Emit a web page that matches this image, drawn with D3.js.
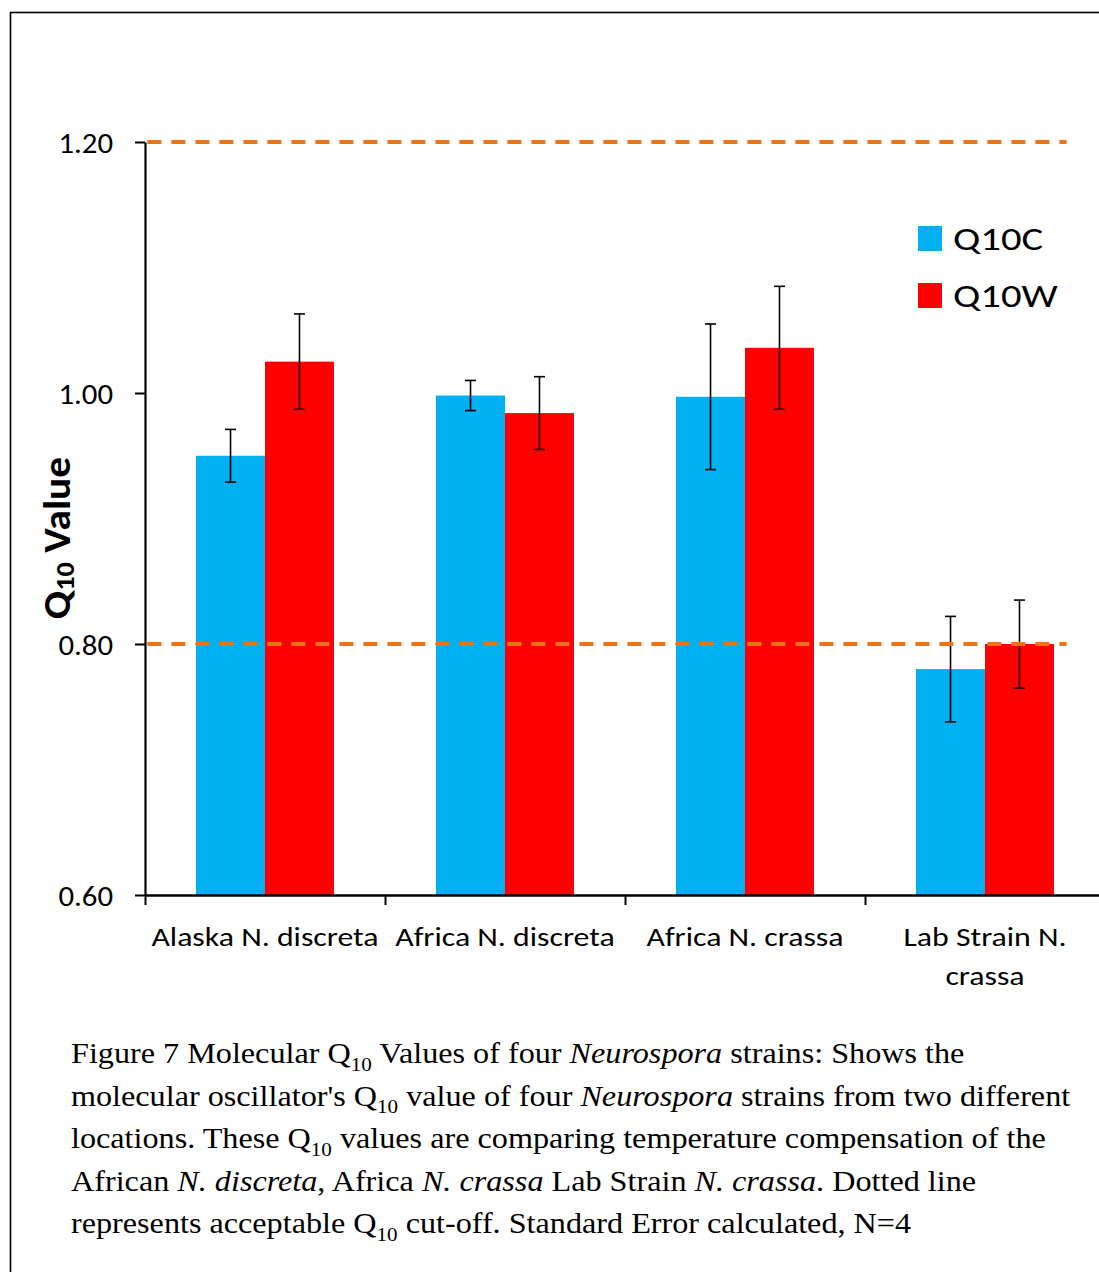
<!DOCTYPE html>
<html>
<head>
<meta charset="utf-8">
<script src="https://cdn.jsdelivr.net/npm/d3@7"></script>
<style>
  html, body { margin: 0; padding: 0; background: #fff; }
  svg { display: block; }
</style>
</head>
<body>
<svg id="chart" width="1099" height="1272"></svg>
<script>
// Molecular Q10 values per strain (mean ± standard error, N=4)
const categories = ["Alaska N. discreta", "Africa N. discreta", "Africa N. crassa", "Lab Strain N. crassa"];
const seriesNames = ["Q10C", "Q10W"];
const q10c = [0.950, 0.998, 0.997, 0.780];
const q10w = [1.025, 0.984, 1.036, 0.800];
const q10cErr = [0.021, 0.012, 0.058, 0.042];
const q10wErr = [0.038, 0.029, 0.049, 0.035];
const yTicks = [0.60, 0.80, 1.00, 1.20];
const cutoffs = [0.80, 1.20];
// extent of the cut-off lines, in category units along the x axis
const cutoffSpan = [0.01, 3.84];

const colors = { Q10C: "#00B0F0", Q10W: "#FF0000" };
const cutoffColor = "#E97316";

const captionLines = [
  [["Figure 7 Molecular Q"], ["10", "sub"], [" Values of four "], ["Neurospora", "it"], [" strains: Shows the"]],
  [["molecular oscillator's Q"], ["10", "sub"], [" value of four "], ["Neurospora", "it"], [" strains from two different"]],
  [["locations. These Q"], ["10", "sub"], [" values are comparing temperature compensation of the"]],
  [["African "], ["N. discreta", "it"], [", Africa "], ["N. crassa", "it"], [" Lab Strain "], ["N. crassa", "it"], [". Dotted line"]],
  [["represents acceptable Q"], ["10", "sub"], [" cut-off. Standard Error calculated, N=4"]]
];

const sans = "Carlito, Lato, sans-serif";
const svg = d3.select("#chart");
const W = 1099, H = 1272;

// frame around the figure
svg.append("rect")
  .attr("x", 10.5).attr("y", 12.5)
  .attr("width", W + 20).attr("height", H + 20)
  .attr("fill", "none").attr("stroke", "#000").attr("stroke-width", 1.6);

const plot = { left: 145, right: 1105, top: 142, bottom: 895 };

const y = d3.scaleLinear().domain([0.6, 1.2]).range([plot.bottom, plot.top]);
const xBand = d3.scaleBand().domain(categories).range([plot.left, plot.right]).paddingInner(0).paddingOuter(0);
const xEdge = d3.scaleLinear().domain([0, categories.length]).range([plot.left, plot.right]);
const xSeries = d3.scaleBand().domain(seriesNames).range([0, xBand.bandwidth()]).paddingInner(0).paddingOuter(0.74);

const rows = categories.map((c, i) => ({
  category: c,
  values: [
    { series: "Q10C", value: q10c[i], err: q10cErr[i] },
    { series: "Q10W", value: q10w[i], err: q10wErr[i] }
  ]
}));

// bars
const groups = svg.append("g").selectAll("g")
  .data(rows).join("g")
  .attr("transform", d => `translate(${xBand(d.category)},0)`);

groups.selectAll("rect")
  .data(d => d.values).join("rect")
  .attr("x", d => xSeries(d.series))
  .attr("width", xSeries.bandwidth())
  .attr("y", d => y(d.value))
  .attr("height", d => y(0.6) - y(d.value))
  .attr("fill", d => colors[d.series]);

// cut-off lines
svg.append("g").selectAll("line")
  .data(cutoffs).join("line")
  .attr("x1", xEdge(cutoffSpan[0])).attr("x2", xEdge(cutoffSpan[1]))
  .attr("y1", d => y(d)).attr("y2", d => y(d))
  .attr("stroke", cutoffColor).attr("stroke-width", 4)
  .attr("stroke-dasharray", "14 10");

// error bars
const capHalf = 5.5;
const eb = groups.selectAll("g.err")
  .data(d => d.values).join("g").attr("class", "err")
  .attr("stroke", "#000").attr("stroke-width", 1.6);
eb.append("line")
  .attr("x1", d => xSeries(d.series) + xSeries.bandwidth() / 2)
  .attr("x2", d => xSeries(d.series) + xSeries.bandwidth() / 2)
  .attr("y1", d => y(d.value + d.err)).attr("y2", d => y(d.value - d.err));
eb.selectAll("line.cap")
  .data(d => [{ d, v: d.value + d.err }, { d, v: d.value - d.err }]).join("line").attr("class", "cap")
  .attr("x1", o => xSeries(o.d.series) + xSeries.bandwidth() / 2 - capHalf)
  .attr("x2", o => xSeries(o.d.series) + xSeries.bandwidth() / 2 + capHalf)
  .attr("y1", o => y(o.v)).attr("y2", o => y(o.v));

// y axis
const yAxis = svg.append("g")
  .attr("transform", `translate(${plot.left},0)`)
  .call(d3.axisLeft(y).tickValues(yTicks).tickFormat(d3.format(".2f")).tickSize(10).tickSizeOuter(0));
yAxis.select(".domain").attr("stroke", "#000").attr("stroke-width", 2.2);
yAxis.selectAll(".tick line").attr("stroke", "#000").attr("stroke-width", 2);
yAxis.selectAll(".tick text")
  .attr("x", 0).attr("dy", "0.36em")
  .attr("transform", "translate(-32,0) scale(1.1,1)")
  .attr("font-family", sans).attr("font-size", 28).attr("fill", "#000");

// x axis (ticks sit between categories)
const xAxis = svg.append("g")
  .attr("transform", `translate(0,${plot.bottom})`)
  .call(d3.axisBottom(xEdge).tickValues(d3.range(categories.length + 1)).tickFormat("").tickSize(10).tickSizeOuter(0));
xAxis.select(".domain").attr("stroke", "#000").attr("stroke-width", 2.6);
xAxis.selectAll(".tick line").attr("stroke", "#000").attr("stroke-width", 2);

// category labels, wrapped to the band width
const labelStretch = 1.2;
const labels = svg.append("g").selectAll("text")
  .data(categories).join("text")
  .attr("transform", d => `translate(${xBand(d) + xBand.bandwidth() / 2},946) scale(${labelStretch},1)`)
  .attr("text-anchor", "middle")
  .attr("font-family", sans).attr("font-size", 26.5).attr("fill", "#000");

labels.each(function (d) {
  const t = d3.select(this);
  const words = d.split(" ");
  const maxW = (xBand.bandwidth() - 4) / labelStretch;
  let line = [];
  let tspan = t.append("tspan").attr("x", 0).attr("dy", 0);
  words.forEach(w => {
    line.push(w);
    tspan.text(line.join(" "));
    if (tspan.node().getComputedTextLength() > maxW && line.length > 1) {
      line.pop();
      tspan.text(line.join(" "));
      line = [w];
      tspan = t.append("tspan").attr("x", 0).attr("dy", 39).text(w);
    }
  });
});

// y axis title
const yTitle = svg.append("text")
  .attr("transform", "translate(70,538) rotate(-90) scale(1.09,1)")
  .attr("text-anchor", "middle")
  .attr("font-family", sans).attr("font-weight", "bold")
  .attr("font-size", 38).attr("fill", "#000");
yTitle.append("tspan").text("Q");
yTitle.append("tspan").attr("font-size", 26).attr("dy", 4).text("10");
yTitle.append("tspan").attr("dy", -4).text(" Value");

// legend
const legend = svg.append("g").selectAll("g")
  .data(seriesNames).join("g")
  .attr("transform", (d, i) => `translate(918,${226 + i * 57})`);
legend.append("rect")
  .attr("width", 24).attr("height", 25)
  .attr("fill", d => colors[d]);
legend.append("text")
  .attr("transform", "translate(35,24) scale(1.27,1)")
  .attr("font-family", sans).attr("font-size", 32).attr("fill", "#000")
  .text(d => d);

// figure caption
const caption = svg.append("g")
  .attr("font-family", "'Liberation Serif', 'Times New Roman', serif")
  .attr("font-size", 29).attr("fill", "#000");
captionLines.forEach((parts, i) => {
  const t = caption.append("text")
    .attr("transform", `translate(71,${1063 + i * 42.5}) scale(1.11,1)`);
  parts.forEach(([s, kind]) => {
    const sp = t.append("tspan").text(s);
    if (kind === "it") sp.attr("font-style", "italic");
    if (kind === "sub") sp.attr("font-size", 19).attr("baseline-shift", "-8px");
  });
});
</script>
</body>
</html>
